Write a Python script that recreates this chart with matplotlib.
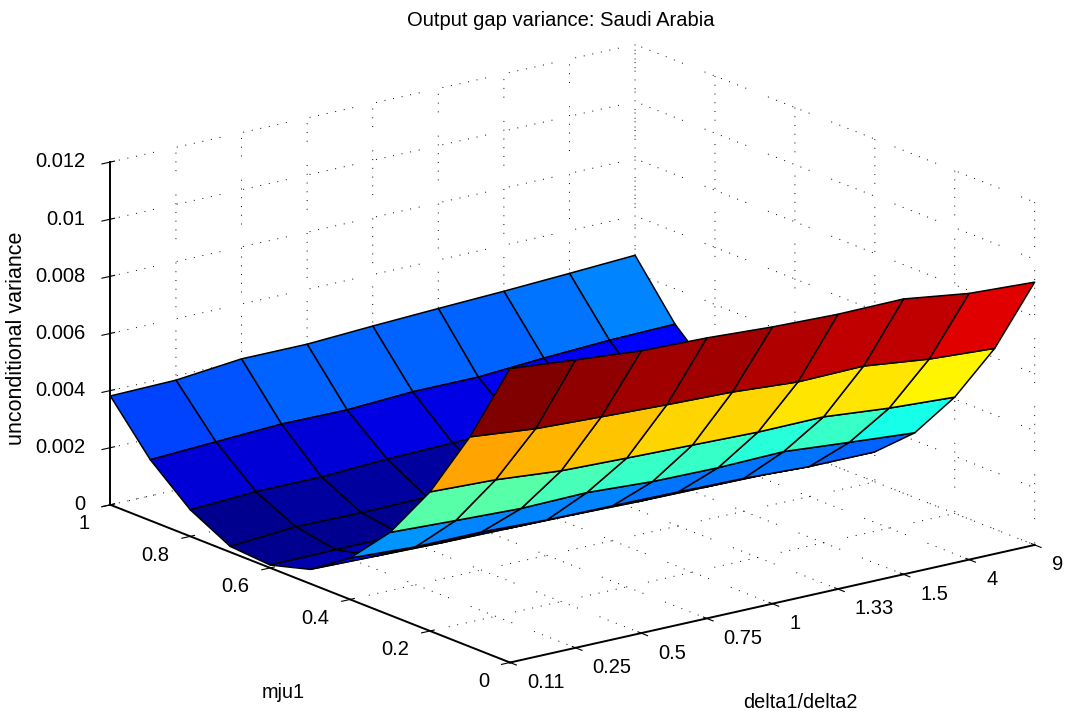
import numpy as np
import matplotlib
matplotlib.use('Agg')
import matplotlib.pyplot as plt
from matplotlib.colors import LinearSegmentedColormap
from mpl_toolkits.mplot3d import proj3d

# Output gap variance, one row per mju1 value
mju_values = [0, 0.1, 0.2, 0.3, 0.4, 0.5, 0.6, 0.7, 0.8, 0.9, 1]
delta_labels = ['0.11', '0.25', '0.5', '0.75', '1', '1.33', '1.5', '4', '9']
mju_labels = ['0', '0.2', '0.4', '0.6', '0.8', '1']
mju_ticks = [0, 0.2, 0.4, 0.6, 0.8, 1]
var_ticks = [0, 0.002, 0.004, 0.006, 0.008, 0.01, 0.012]
var_labels = ['0', '0.002', '0.004', '0.006', '0.008', '0.01', '0.012']

row_00 = [.01029, .01008, .00988, .00982, .00969, .00962, .00964, .00932, .00920]
row_01 = [.00735, .00712, .00702, .00693, .00686, .00670, .00674, .00647, .00633]
row_02 = [.00487, .00478, .00458, .00451, .00445, .00439, .00441, .00420, .00407]
row_03 = [.00290, .00280, .00271, .00275, .00262, .00259, .00264, .00245, .00227]
row_04 = [.00145, .00133, .00133, .00124, .00122, .00119, .00115, .00105, .00105]
row_05 = [.00050, .00045, .00040, .00038, .00035, .00030, .00028, .00025, .00022]
row_06 = [.00010, .00012, .00014, .00016, .00018, .00020, .00022, .00024, .00026]
row_07 = [.00020, .00037, .00035, .00038, .00042, .00045, .00050, .00055, .00060]
row_08 = [.00093, .00105, .00105, .00116, .00121, .00128, .00135, .00140, .00145]
row_09 = [.00213, .00224, .00235, .00233, .00245, .00245, .00260, .00271, .00276]
row_10 = [.00381, .00385, .00408, .00408, .00420, .00430, .00439, .00450, .00462]

plt.rcParams['font.family'] = ['Liberation Sans', 'DejaVu Sans']
# the reference grid is sparse runs of dots
plt.rcParams['grid.linestyle'] = (0, (1, 8, 1, 8, 1, 8, 1, 8, 1, 8, 1, 24))
plt.rcParams['grid.linewidth'] = 0.7
plt.rcParams['grid.color'] = 'k'

# matlab's old jet, matplotlib's differs a little
matlab_jet = LinearSegmentedColormap.from_list('matlab_jet', [
    (0, (0, 0, 0.5625)), (0.125, (0, 0, 1)), (0.375, (0, 1, 1)),
    (0.625, (1, 1, 0)), (0.875, (1, 0, 0)), (1, (0.5, 0, 0))], N=64)

Z = np.array([row_00, row_01, row_02, row_03, row_04, row_05, row_06,
              row_07, row_08, row_09, row_10])
X, Y = np.meshgrid(np.arange(len(delta_labels)), mju_values)

fig = plt.figure(figsize=(10.67, 7.17), dpi=100)
ax = fig.add_axes([59 / 1067, -150 / 717, 1000 / 1067, 1000 / 717], projection='3d')
ax.set_proj_type('ortho')
ax.view_init(elev=17.3, azim=-127)
ax.set_box_aspect((657, 664, 359), zoom=0.9715)

# flat colouring, each cell takes the colour of its first corner
colors = matlab_jet((Z - Z.min()) / (Z.max() - Z.min()))
ax.plot_surface(X, Y, Z, facecolors=colors, edgecolor='k', linewidth=1.1,
                rstride=1, cstride=1, shade=False, antialiased=True)

ax.set_xlim(0, 8, view_margin=0)
ax.set_ylim(0, 1, view_margin=0)
ax.set_zlim(0, 0.012, view_margin=0)

ax.set_xticks(np.arange(len(delta_labels)))
ax.set_xticklabels([])
ax.set_yticks(mju_ticks)
ax.set_yticklabels([])
ax.set_zticks(var_ticks)
ax.set_zticklabels([])


# tick labels placed by hand, mplot3d can't do matlab's alignment
def tick_label(x, y, z, s, ha):
    px, py, _ = proj3d.proj_transform(x, y, z, ax.get_proj())
    ax.text2D(px, py, s, transform=ax.transData, ha=ha, va='center', fontsize=14.5)


for i, lab in enumerate(delta_labels):
    tick_label(i - 0.327, -0.096, 0, lab, 'left')
for m, lab in zip(mju_ticks, mju_labels):
    tick_label(-0.671, m - 0.0576, 0, lab, 'right')
for v, lab in zip(var_ticks, var_labels):
    tick_label(-0.38, 1, v + 0.0002, lab, 'right')

for axis in (ax.xaxis, ax.yaxis, ax.zaxis):
    axis.set_pane_color((1, 1, 1, 0))
    axis.pane.set_edgecolor('none')
    axis.line.set_color('k')
    axis.line.set_linewidth(1.4)

fig.text(561 / 1067, 1 - 21 / 717, 'Output gap variance: Saudi Arabia',
         ha='center', va='center', fontsize=14.5)
fig.text(283 / 1067, 1 - 692 / 717, 'mju1', ha='center', va='center', fontsize=14.3)
fig.text(800 / 1067, 1 - 703 / 717, 'delta1/delta2', ha='center', va='center', fontsize=14.3)
fig.text(17 / 1067, 1 - 338 / 717, 'unconditional variance', rotation=90,
         ha='center', va='center', fontsize=15.5)

fig.savefig('out.png', dpi=100)
